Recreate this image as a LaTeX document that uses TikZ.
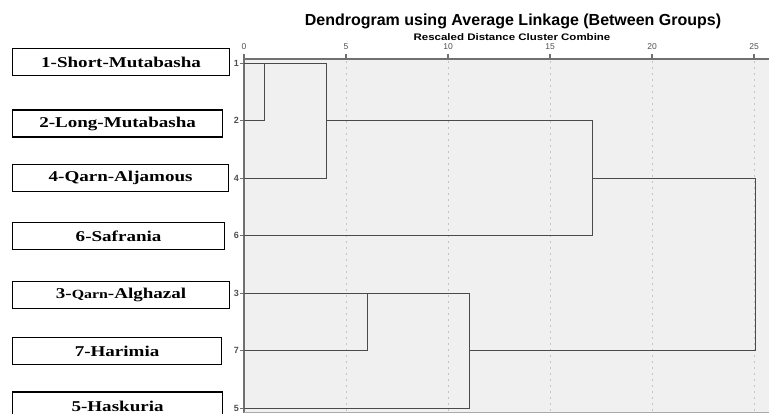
\documentclass[tikz,border=0pt]{standalone}
\usepackage{fontspec}
\setmainfont{Liberation Serif}
\setsansfont{Liberation Sans}
\definecolor{plotbg}{HTML}{F0F0F0}
\definecolor{axisc}{HTML}{707070}
\definecolor{dendc}{HTML}{4A4A4A}
\definecolor{gridc}{HTML}{C4C4C4}
\definecolor{tickc}{HTML}{505050}
\begin{document}
\begin{tikzpicture}[x=1pt,y=-1pt,
  lbox/.style={draw=black,line width=1.2pt,inner sep=0pt,minimum height=27pt,anchor=west,
    font=\fontsize{15}{15}\selectfont\bfseries},
  rowlab/.style={font=\sffamily\fontsize{9}{9}\selectfont\bfseries,text=tickc,anchor=east,inner sep=0pt},
  ticklab/.style={font=\sffamily\fontsize{8.5}{8.5}\selectfont,text=tickc,inner sep=0pt},
  dend/.style={draw=dendc,line width=1.9pt},
  gridl/.style={draw=gridc,line width=1pt,dash pattern=on 1.5pt off 4.5pt},
  axisl/.style={draw=axisc,line width=1.3pt}]
\useasboundingbox (0,0) rectangle (769,413);
% plot area
\fill[plotbg] (244,59) rectangle (769,413);
\foreach \gx in {346,448,550,652,754} \draw[gridl] (\gx,61) -- (\gx,413);
% title
\node[font=\sffamily\fontsize{16}{16}\selectfont\bfseries,inner sep=0pt] (title) at (513,21) {Dendrogram using Average Linkage (Between Groups)};
\node[font=\sffamily\fontsize{9.5}{9.5}\selectfont\bfseries,inner sep=0pt] (subtitle) at (512,37) {\scalebox{1.21}[1]{Rescaled Distance Cluster Combine}};
% axes
\draw[axisl] (244,59) -- (769,59);
\draw[draw=axisc,line width=2pt] (244,57) -- (244,413);
\draw[draw=axisc!60,line width=1pt] (244,412) -- (769,412);
\foreach \v/\gx in {0/244,5/346,10/448,15/550,20/652,25/754}{
  \draw[axisl] (\gx,59) -- (\gx,54);
  \node[ticklab] (t\v) at (\gx,47) {\v};
}
% row labels
\foreach \r/\yy in {1/63.5,2/120.5,4/178.5,6/235.5,3/293.5,7/350.5,5/408.5}{
  \coordinate (L\r) at (244,\yy);
  \draw[axisl,line width=1pt] (240,\yy) -- (L\r);
  \node[rowlab] (r\r) at (239,\yy) {\r};
}
% boxes
\node[lbox,minimum width=217pt] (b1) at (12,62) {\scalebox{1.27}[1]{1-Short-Mutabasha}};
\node[lbox,minimum width=210pt] (b2) at (12,123.5) {\scalebox{1.27}[1]{2-Long-Mutabasha}};
\node[lbox,minimum width=216pt] (b4) at (12,178) {\scalebox{1.27}[1]{4-Qarn-Aljamous}};
\node[lbox,minimum width=212pt] (b6) at (12,236) {\scalebox{1.27}[1]{6-Safrania}};
\node[lbox,minimum width=217pt] (b3) at (12,295) {\scalebox{1.27}[1]{3-{\fontsize{12.5}{12.5}\selectfont Qarn}-Alghazal}};
\node[lbox,minimum width=209pt] (b7) at (12,351) {\scalebox{1.27}[1]{7-Harimia}};
\node[lbox,minimum width=210pt,minimum height=28pt] (b5) at (12,406) {\scalebox{1.27}[1]{5-Haskuria}};
% merge points
\coordinate (m12a) at (264.5,63.5);
\coordinate (m12b) at (264.5,120.5);
\coordinate (m124a) at (326.5,63.5);
\coordinate (m124b) at (326.5,178.5);
\coordinate (m124c) at (326.5,120.5);
\coordinate (m6a) at (592.5,120.5);
\coordinate (m6b) at (592.5,235.5);
\coordinate (m6c) at (592.5,178.5);
\coordinate (m37a) at (367.5,293.5);
\coordinate (m37b) at (367.5,350.5);
\coordinate (m5a) at (469.5,293.5);
\coordinate (m5b) at (469.5,408.5);
\coordinate (m5c) at (469.5,350.5);
\coordinate (fa) at (755.5,178.5);
\coordinate (fb) at (755.5,350.5);
% dendrogram
\draw[dend] (L2) -- (m12b) -- (m12a);
\draw[dend] (L1) -- (m124a) -- (m124b) -- (L4);
\draw[dend] (m124c) -- (m6a) -- (m6b) -- (L6);
\draw[dend] (m6c) -- (fa) -- (fb) -- (m5c);
\draw[dend] (L7) -- (m37b) -- (m37a);
\draw[dend] (L3) -- (m5a) -- (m5b) -- (L5);
\end{tikzpicture}
\end{document}
